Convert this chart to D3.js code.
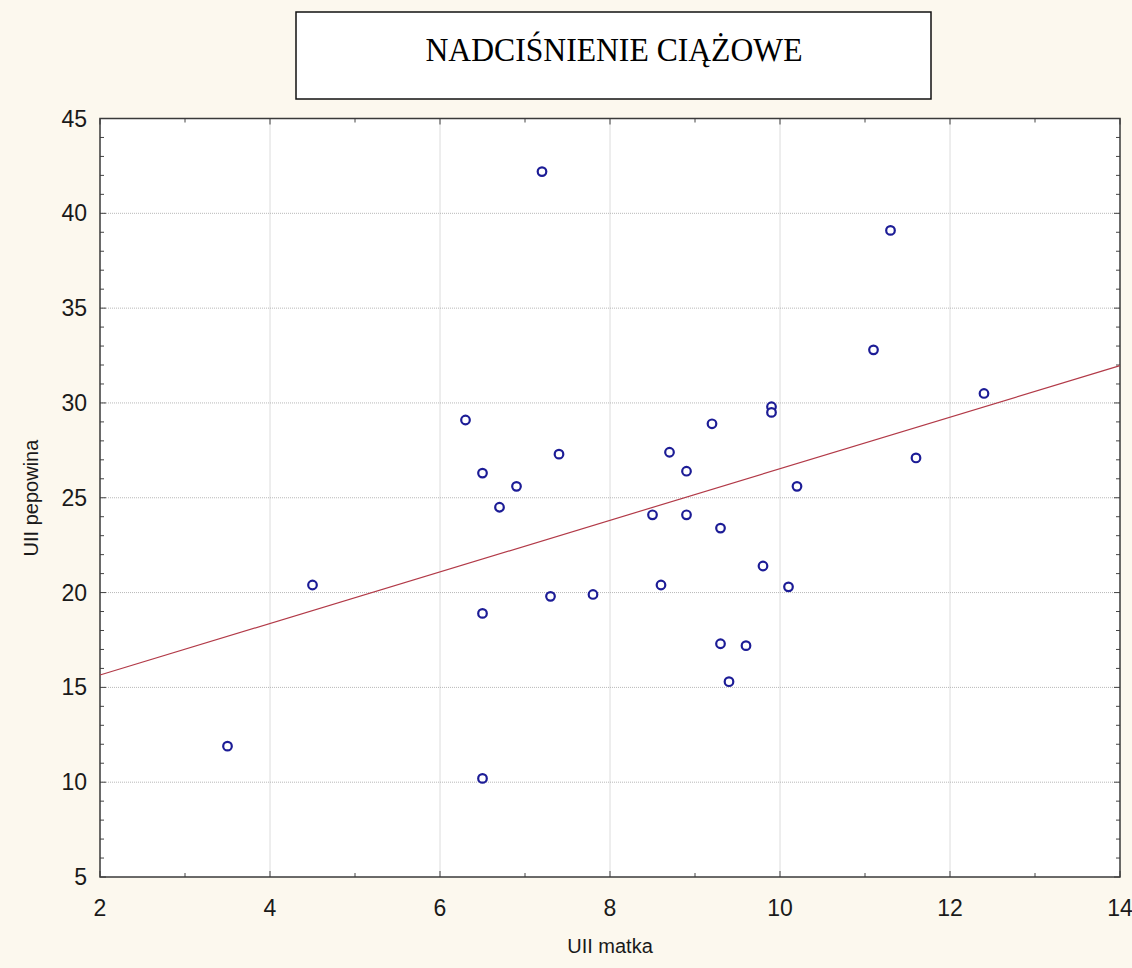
<!DOCTYPE html>
<html>
<head>
<meta charset="utf-8">
<script src="https://cdn.jsdelivr.net/npm/d3@7/dist/d3.min.js"></script>
<style>
  body { margin: 0; background: #fcf8ee; }
  svg { display: block; }
</style>
</head>
<body>
<div id="div_svg"></div>
<script>
// data
var uiiMatka = [3.5, 4.5, 6.3, 6.5, 6.5, 6.5, 6.7, 6.9, 7.2, 7.3, 7.4, 7.8, 8.5, 8.6, 8.7, 8.9,
                8.9, 9.2, 9.3, 9.3, 9.4, 9.6, 9.8, 9.9, 9.9, 10.1, 10.2, 11.1, 11.3, 11.6, 12.4];
var uiiPepowina = [11.9, 20.4, 29.1, 26.3, 18.9, 10.2, 24.5, 25.6, 42.2, 19.8, 27.3, 19.9, 24.1, 20.4, 27.4, 26.4,
                   24.1, 28.9, 23.4, 17.3, 15.3, 17.2, 21.4, 29.8, 29.5, 20.3, 25.6, 32.8, 39.1, 27.1, 30.5];
var fitX = [2, 14];
var fitY = [15.65, 31.97];
var xTicks = [2, 4, 6, 8, 10, 12, 14];
var yTicks = [5, 10, 15, 20, 25, 30, 35, 40, 45];
var title = "NADCIŚNIENIE CIĄŻOWE";
var xLabel = "UII matka";
var yLabel = "UII pepowina";

var W = 1132, H = 968;
var pL = 100, pR = 1120, pT = 118.5, pB = 877;

var svg = d3.select("#div_svg").append("svg").attr("id", "svg")
    .attr("width", W).attr("height", H);

svg.append("rect").attr("width", W).attr("height", H).attr("fill", "#fcf8ee");

var x = d3.scaleLinear().domain([2, 14]).range([pL, pR]);
var y = d3.scaleLinear().domain([5, 45]).range([pB, pT]);

// plot background
svg.append("rect").attr("x", pL).attr("y", pT)
    .attr("width", pR - pL).attr("height", pB - pT).attr("fill", "white");

// grid
svg.append("g").selectAll("line").data(xTicks.slice(1, -1)).enter().append("line")
    .attr("x1", function(d) { return x(d); }).attr("x2", function(d) { return x(d); })
    .attr("y1", pT).attr("y2", pB)
    .style("stroke", "#b8b8b8").style("stroke-dasharray", "1,1");
svg.append("g").selectAll("line").data(yTicks.slice(1, -1)).enter().append("line")
    .attr("y1", function(d) { return y(d); }).attr("y2", function(d) { return y(d); })
    .attr("x1", pL).attr("x2", pR)
    .style("stroke", "#b8b8b8").style("stroke-dasharray", "1,1");

// ticks on all four sides, pointing inward
var xMinor = d3.range(2, 14.01, 1);
var yMinor = d3.range(5, 45.01, 1);
var tk = svg.append("g").style("stroke", "#444").style("stroke-width", 1);
xMinor.forEach(function(v) {
    var len = (v % 2 === 0) ? 6 : 4;
    tk.append("line").attr("x1", x(v)).attr("x2", x(v)).attr("y1", pB).attr("y2", pB - len);
    tk.append("line").attr("x1", x(v)).attr("x2", x(v)).attr("y1", pT).attr("y2", pT + len);
});
yMinor.forEach(function(v) {
    var len = (v % 5 === 0) ? 6 : 4;
    tk.append("line").attr("y1", y(v)).attr("y2", y(v)).attr("x1", pL).attr("x2", pL + len);
    tk.append("line").attr("y1", y(v)).attr("y2", y(v)).attr("x1", pR).attr("x2", pR - len);
});

// frame
svg.append("rect").attr("x", pL).attr("y", pT)
    .attr("width", pR - pL).attr("height", pB - pT)
    .attr("fill", "none").style("stroke", "#3a3a3a").style("stroke-width", 1.5);

// tick labels
svg.append("g").selectAll("text").data(xTicks).enter().append("text")
    .attr("x", function(d) { return x(d); }).attr("y", 916)
    .attr("text-anchor", "middle")
    .style("font-family", "Liberation Sans, Arial, sans-serif").style("font-size", "23px")
    .style("fill", "#1a1a1a").text(function(d) { return d; });
svg.append("g").selectAll("text").data(yTicks).enter().append("text")
    .attr("x", 87).attr("y", function(d) { return y(d) + 8; })
    .attr("text-anchor", "end")
    .style("font-family", "Liberation Sans, Arial, sans-serif").style("font-size", "23px")
    .style("fill", "#1a1a1a").text(function(d) { return d; });

// axis titles
svg.append("text").attr("x", 610).attr("y", 953).attr("text-anchor", "middle")
    .style("font-family", "Liberation Sans, Arial, sans-serif").style("font-size", "20px")
    .style("fill", "#1a1a1a").text(xLabel);
svg.append("text").attr("transform", "translate(38,498) rotate(-90)").attr("text-anchor", "middle")
    .style("font-family", "Liberation Sans, Arial, sans-serif").style("font-size", "20px")
    .style("fill", "#1a1a1a").text(yLabel);

// regression line
var line = d3.line().x(function(d) { return x(d[0]); }).y(function(d) { return y(d[1]); });
svg.append("path").attr("d", line(d3.zip(fitX, fitY)))
    .style("fill", "none").style("stroke", "#b23a48").style("stroke-width", 1.2);

// points
svg.append("g").selectAll("circle").data(d3.zip(uiiMatka, uiiPepowina)).enter().append("circle")
    .attr("cx", function(d) { return x(d[0]); }).attr("cy", function(d) { return y(d[1]); })
    .attr("r", 4.3).attr("fill", "white")
    .style("stroke", "#1c1c96").style("stroke-width", 2.2);

// title box
svg.append("rect").attr("x", 296).attr("y", 12).attr("width", 635).attr("height", 87)
    .attr("fill", "white").style("stroke", "#111").style("stroke-width", 1.5);
svg.append("text").attr("x", 614).attr("y", 61).attr("text-anchor", "middle")
    .attr("textLength", 377).attr("lengthAdjust", "spacingAndGlyphs")
    .style("font-family", "Liberation Serif, Times New Roman, serif").style("font-size", "34px")
    .style("fill", "#000").text(title);
</script>
</body>
</html>
